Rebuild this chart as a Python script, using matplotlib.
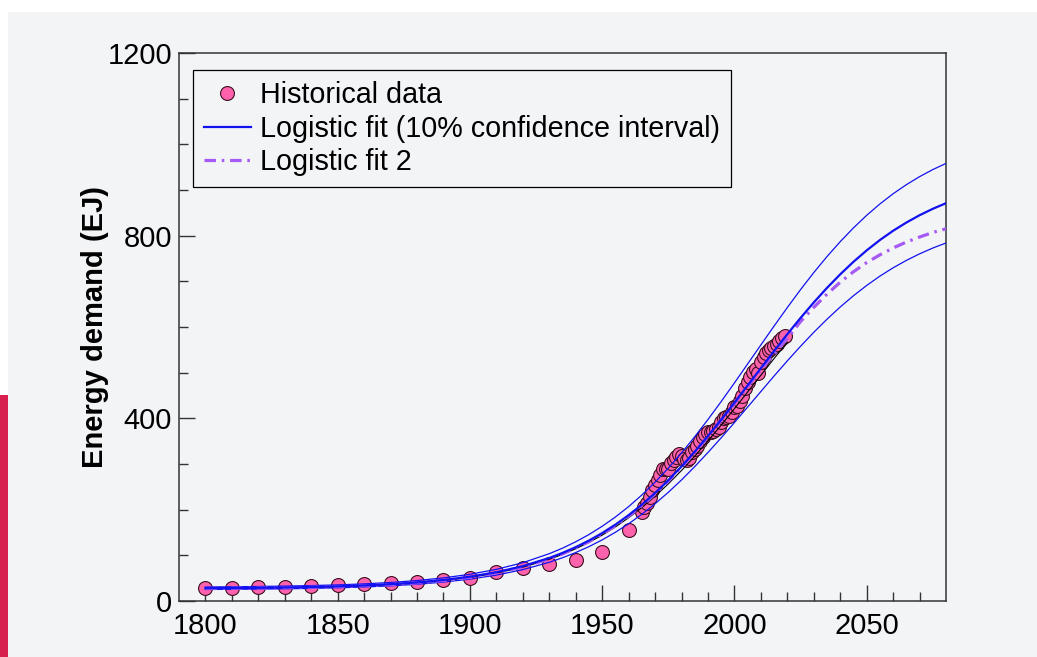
import numpy as np
import matplotlib.pyplot as plt
from matplotlib.patches import Rectangle

plt.rcParams['font.family'] = ['Liberation Sans', 'DejaVu Sans']

# historical energy demand (EJ)
hist_years_early = [1800, 1810, 1820, 1830, 1840, 1850, 1860, 1870, 1880, 1890,
                    1900, 1910, 1920, 1930, 1940, 1950, 1960]
hist_early = [28, 29, 30, 31, 32, 35, 37, 39, 42, 46,
              51, 63, 73, 80, 89, 108, 155]
hist_years_late = list(range(1965, 2020))
hist_late = [195, 205, 214, 228, 243, 255, 264, 276, 290, 289,
             290, 302, 309, 316, 321, 317, 312, 309, 313, 326,
             333, 340, 350, 360, 366, 369, 371, 372, 376, 382,
             392, 400, 404, 406, 414, 424, 428, 437, 450, 467,
             479, 490, 501, 507, 500, 523, 535, 542, 550, 555,
             558, 563, 570, 577, 581]

# fitted curves
fit_years = [1800, 1810, 1820, 1830, 1840, 1850, 1860, 1870, 1880, 1890,
             1900, 1910, 1920, 1930, 1935, 1940, 1945, 1950, 1955, 1960,
             1965, 1970, 1975, 1980, 1985, 1990, 1995, 2000, 2005, 2010,
             2015, 2020, 2025, 2030, 2035, 2040, 2045, 2050, 2055, 2060,
             2065, 2070, 2075, 2080]
fit_main = [28.0, 28.4, 28.9, 29.7, 30.7, 32.1, 34.1, 36.9, 40.7, 46.0,
            53.2, 63.0, 76.3, 94.2, 105.2, 117.9, 132.3, 148.7, 167.2, 187.9,
            211.0, 236.5, 264.4, 294.6, 327.0, 361.3, 397.1, 434.1, 471.9, 509.7,
            547.4, 584.2, 619.8, 653.7, 685.6, 715.3, 742.7, 767.7, 790.4, 810.7,
            828.7, 844.7, 858.8, 871.1]
fit_upper = [30.8, 31.2, 31.8, 32.7, 33.8, 35.3, 37.5, 40.6, 44.8, 50.6,
             58.5, 69.3, 83.9, 103.6, 115.7, 129.7, 145.5, 163.6, 183.9, 206.7,
             232.1, 260.2, 290.8, 324.1, 359.7, 397.4, 436.8, 477.5, 519.1, 560.7,
             602.1, 642.6, 681.8, 719.1, 754.2, 786.8, 817.0, 844.5, 869.4, 891.8,
             911.6, 929.2, 944.7, 958.2]
fit_lower = [25.2, 25.6, 26.0, 26.7, 27.6, 28.9, 30.7, 33.2, 36.6, 41.4,
             47.9, 56.7, 68.7, 84.8, 94.7, 106.1, 119.1, 133.8, 150.5, 169.1,
             189.9, 212.9, 238.0, 265.1, 294.3, 325.2, 357.4, 390.7, 424.7, 458.7,
             492.7, 525.8, 557.8, 588.3, 617.0, 643.8, 668.4, 690.9, 711.4, 729.6,
             745.8, 760.2, 772.9, 784.0]
fit2 = [27.5, 27.9, 28.4, 29.1, 30.1, 31.4, 33.3, 36.0, 39.6, 44.8,
        51.8, 61.5, 74.6, 92.3, 103.2, 115.8, 130.1, 146.5, 165.0, 185.7,
        208.9, 234.5, 262.6, 293.0, 325.6, 360.0, 395.8, 432.6, 469.8, 506.2,
        541.0, 575.0, 612, 643, 672, 698, 721, 741, 758, 773,
        786, 797, 807, 815]
# thin black fit, up to 2020 only
fit_black = [27.2, 27.5, 28.0, 28.8, 29.8, 31.1, 33.1, 35.8, 39.5, 44.6,
             51.6, 61.1, 74.0, 91.4, 102.0, 114.4, 128.3, 144.2, 162.2, 182.3,
             204.7, 229.4, 256.5, 285.8, 317.2, 350.5, 385.2, 421.1, 457.7, 494.4,
             531.0, 566.7]

bg = '#f3f4f6'
fig = plt.figure(figsize=(10.37, 6.57), dpi=100, facecolor='white')
fig.patches.append(Rectangle((8 / 1037, 0), 1, 1 - 12 / 657, transform=fig.transFigure,
                             facecolor=bg, edgecolor='none', zorder=-10))
fig.patches.append(Rectangle((0, 0), 8 / 1037, 262 / 657, transform=fig.transFigure,
                             facecolor='#d7204e', edgecolor='none', zorder=-10))

ax = fig.add_axes([179 / 1037, 1 - 601 / 657, 767 / 1037, 548 / 657])
ax.set_facecolor(bg)

pink = '#ff62ac'
ax.plot(hist_years_early + hist_years_late, hist_early + hist_late, 'o', ms=10,
        mfc=pink, mec='#3a1020', mew=0.8, label='Historical data', zorder=2)
ax.plot(fit_years[:len(fit_black)], fit_black, color='black', lw=0.8, zorder=3)
ax.plot(fit_years, fit_upper, color='#1212f0', lw=0.9, zorder=3)
ax.plot(fit_years, fit_lower, color='#1212f0', lw=0.9, zorder=3)
ax.plot(fit_years, fit2, color='#a65af5', lw=2.3, dashes=[3.6, 1.8, 0.8, 1.8],
        label='Logistic fit 2', zorder=4)
ax.plot(fit_years, fit_main, color='#1212f0', lw=1.6,
        label='Logistic fit (10% confidence interval)', zorder=5)

ax.set_xlim(1790, 2080)
ax.set_ylim(0, 1200)
ax.set_xticks([1800, 1850, 1900, 1950, 2000, 2050])
ax.set_xticks(np.arange(1800, 2080, 10), minor=True)
ax.set_yticks([0, 400, 800, 1200])
ax.set_yticks(np.arange(0, 1201, 100), minor=True)
ax.tick_params(which='both', direction='in', colors='#333333', labelcolor='black',
               labelsize=21, width=1)
ax.tick_params(axis='x', which='major', length=11.5, pad=8)
ax.tick_params(axis='y', which='major', length=11.5, pad=5)
ax.tick_params(which='minor', length=6.5)
for s in ax.spines.values():
    s.set_color('#333333')
    s.set_linewidth(1.1)

ax.set_ylabel('Energy demand (EJ)', fontsize=21, fontweight='bold', labelpad=-1)

h, l = ax.get_legend_handles_labels()
order = [0, 2, 1]
leg = ax.legend([h[i] for i in order], [l[i] for i in order], loc='upper left',
                bbox_to_anchor=(0.018, 0.969), borderaxespad=0, fontsize=20.7,
                numpoints=1, handlelength=1.65, handletextpad=0.3, labelspacing=0.2,
                borderpad=0.38, fancybox=False, framealpha=1, facecolor=bg,
                edgecolor='black')
leg.get_frame().set_linewidth(0.9)

fig.savefig('out.png', dpi=100, facecolor=fig.get_facecolor())
